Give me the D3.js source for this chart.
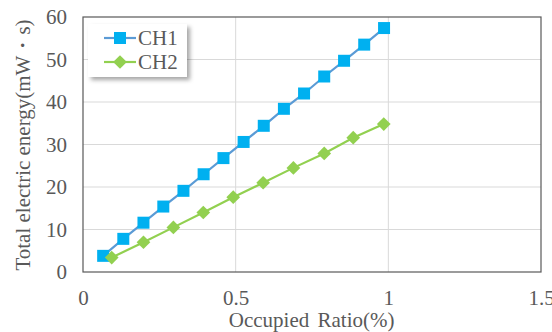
<!DOCTYPE html>
<html>
<head>
<meta charset="utf-8">
<script src="https://cdn.jsdelivr.net/npm/d3@7"></script>
<style>
  body { margin: 0; background: #fff; }
  svg { display: block; }
  text { font-family: "Liberation Serif", "Times New Roman", serif; fill: #595959; }
</style>
</head>
<body>
<div id="chart"></div>
<script>
var ch1X = [0.066, 0.132, 0.198, 0.263, 0.329, 0.395, 0.46, 0.526, 0.592, 0.658, 0.724, 0.79, 0.855, 0.921, 0.986];
var ch1Y = [3.8, 7.8, 11.6, 15.4, 19.1, 23.0, 26.8, 30.6, 34.4, 38.4, 42.0, 46.0, 49.7, 53.5, 57.4];
var ch2X = [0.094, 0.198, 0.296, 0.394, 0.492, 0.59, 0.689, 0.79, 0.885, 0.985];
var ch2Y = [3.4, 7.0, 10.5, 14.0, 17.6, 21.0, 24.5, 27.9, 31.6, 34.8];
var xTicks = [0, 0.5, 1, 1.5];
var yTicks = [0, 10, 20, 30, 40, 50, 60];
var seriesNames = ["CH1", "CH2"];

var width = 552, height = 332;
var margin = { left: 83, right: 11, top: 17, bottom: 60 };
var serif = '"Liberation Serif", "Times New Roman", serif';

var svg = d3.select("#chart").append("svg")
	.attr("width", width)
	.attr("height", height);

var defs = svg.append("defs");
defs.append("filter")
	.attr("id", "shadow")
	.attr("x", "-20%").attr("y", "-20%")
	.attr("width", "150%").attr("height", "160%")
	.append("feDropShadow")
	.attr("dx", 3).attr("dy", 3)
	.attr("stdDeviation", 2)
	.attr("flood-color", "#000")
	.attr("flood-opacity", 0.35);

var x = d3.scaleLinear().domain([0, 1.5]).range([margin.left, width - margin.right]);
var y = d3.scaleLinear().domain([0, 60]).range([height - margin.bottom, margin.top]);

// grid
svg.append("g")
	.selectAll("line.h")
	.data(yTicks.slice(1, -1))
	.enter().append("line")
	.attr("x1", x(0)).attr("x2", x(1.5))
	.attr("y1", function(d) { return y(d); })
	.attr("y2", function(d) { return y(d); })
	.attr("stroke", "#d9d9d9").attr("stroke-width", 1);

svg.append("g")
	.selectAll("line.v")
	.data(xTicks.slice(1, -1))
	.enter().append("line")
	.attr("y1", y(0)).attr("y2", y(60))
	.attr("x1", function(d) { return x(d); })
	.attr("x2", function(d) { return x(d); })
	.attr("stroke", "#d9d9d9").attr("stroke-width", 1);

// frame
svg.append("rect")
	.attr("x", x(0)).attr("y", y(60))
	.attr("width", x(1.5) - x(0)).attr("height", y(0) - y(60))
	.attr("fill", "none").attr("stroke", "#595959").attr("stroke-width", 1.2);

// axes
var xAxis = svg.append("g")
	.attr("transform", "translate(0," + (y(0) + 15) + ")")
	.call(d3.axisBottom(x).tickValues(xTicks).tickSize(0).tickFormat(function(d) { return d; }))
	.attr("font-family", serif).attr("font-size", 21);
xAxis.select(".domain").remove();
xAxis.selectAll("text").attr("fill", "#595959").attr("dy", "0.71em");

var yAxis = svg.append("g")
	.attr("transform", "translate(" + (x(0) - 14) + ",0)")
	.call(d3.axisLeft(y).tickValues(yTicks).tickSize(0))
	.attr("font-family", serif).attr("font-size", 21);
yAxis.select(".domain").remove();
yAxis.selectAll("text").attr("fill", "#595959").attr("x", -2);

svg.append("text")
	.attr("x", (x(0) + x(1)) / 2 + 76)
	.attr("y", 327)
	.attr("text-anchor", "middle")
	.style("font-size", "21px")
	.style("word-spacing", "3px")
	.text("Occupied Ratio(%)");

svg.append("text")
	.attr("transform", "translate(30," + 145 + ") rotate(-90)")
	.attr("text-anchor", "middle")
	.style("font-size", "21px")
	.text("Total electric energy(mW・s)");

// series
var line = d3.line()
	.x(function(d) { return x(d[0]); })
	.y(function(d) { return y(d[1]); });

var ch1 = d3.zip(ch1X, ch1Y);
var ch2 = d3.zip(ch2X, ch2Y);

var square = d3.symbol().type(d3.symbolSquare).size(144);
var diamond = d3.symbol().type(d3.symbolDiamond2).size(120);

svg.append("path").datum(ch1)
	.attr("d", line).attr("fill", "none")
	.attr("stroke", "#5b9bd5").attr("stroke-width", 2.2);
svg.append("g").selectAll("path")
	.data(ch1).enter().append("path")
	.attr("d", square)
	.attr("transform", function(d) { return "translate(" + x(d[0]) + "," + y(d[1]) + ")"; })
	.attr("fill", "#00b0f0");

svg.append("path").datum(ch2)
	.attr("d", line).attr("fill", "none")
	.attr("stroke", "#92d050").attr("stroke-width", 2.2);
svg.append("g").selectAll("path")
	.data(ch2).enter().append("path")
	.attr("d", diamond)
	.attr("transform", function(d) { return "translate(" + x(d[0]) + "," + y(d[1]) + ")"; })
	.attr("fill", "#92d050");

// legend
var legend = svg.append("g").attr("transform", "translate(88,24)");
legend.append("rect")
	.attr("width", 99).attr("height", 53)
	.attr("fill", "#fff")
	.attr("filter", "url(#shadow)");
var items = legend.selectAll("g.item")
	.data(seriesNames).enter().append("g")
	.attr("transform", function(d, i) { return "translate(0," + (14 + i * 24) + ")"; });
items.append("line")
	.attr("x1", 16).attr("x2", 48)
	.attr("stroke", function(d, i) { return i ? "#92d050" : "#5b9bd5"; })
	.attr("stroke-width", 2.2);
items.append("path")
	.attr("d", function(d, i) { return i ? diamond() : square(); })
	.attr("transform", "translate(32,0)")
	.attr("fill", function(d, i) { return i ? "#92d050" : "#00b0f0"; });
items.append("text")
	.attr("x", 50).attr("dy", "0.35em")
	.style("font-size", "21px")
	.text(function(d) { return d; });
</script>
</body>
</html>
